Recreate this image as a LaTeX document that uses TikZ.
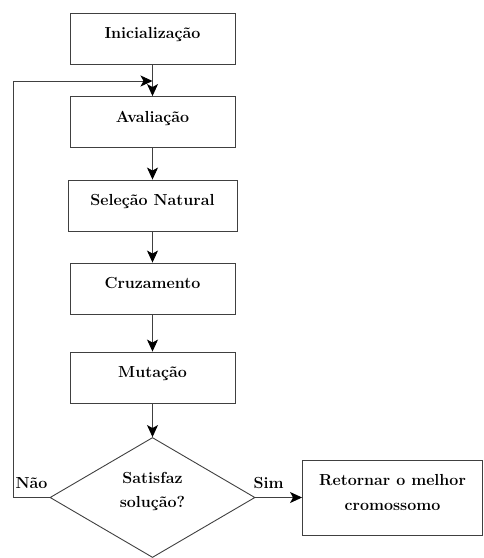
\documentclass[tikz,border=0pt]{standalone}
\usepackage{tikz}
\usetikzlibrary{arrows.meta}
\usetikzlibrary{shapes.geometric}
\usetikzlibrary{positioning}
\colorlet{linegray}{black!75}

\begin{document}
\begin{tikzpicture}[x=1pt,y=-1pt,
    etapa/.style={draw=linegray,line width=0.9pt,rectangle,minimum width=165pt,minimum height=51pt,inner sep=0pt,text depth=11pt,font=\fontsize{16}{18}\selectfont\bfseries},
    decisao/.style={draw=linegray,line width=0.9pt,diamond,aspect=1.7,minimum width=205pt,minimum height=120pt,inner sep=0pt,align=center,font=\fontsize{16}{24}\selectfont\bfseries},
    rotulo/.style={inner sep=0pt,font=\fontsize{16}{18}\selectfont\bfseries},
    seta/.style={draw=linegray,line width=0.9pt,-{Stealth[length=12pt,width=11pt,inset=3pt,black]}}]
\useasboundingbox (0,0) rectangle (483,558);
\node[etapa] (ini) at (152.5,38.5) {Inicialização};
\node[etapa] (aval) at (152.5,122) {Avaliação};
\node[etapa,minimum width=169pt] (sel) at (152.5,205.5) {Seleção Natural};
\node[etapa] (cruz) at (152.5,288.5) {Cruzamento};
\node[etapa] (mut) at (152.5,377.5) {Mutação};
\node[decisao] (sat) at (152.5,497.5) {Satisfaz\\solução?\\[-8pt]};
\node[etapa,minimum width=180pt,minimum height=75pt,align=center,font=\fontsize{16}{25}\selectfont\bfseries] (ret) at (392.5,497.5) {Retornar o melhor\\cromossomo};
\coordinate (canto) at (13,81);
\coordinate (volta) at (152.5,81);
% fluxo principal
\draw[seta] (ini) -- (aval);
\draw[seta] (aval) -- (sel);
\draw[seta] (sel) -- (cruz);
\draw[seta] (cruz) -- (mut);
\draw[seta] (mut) -- (sat);
\draw[seta] (sat.east) -- (ret.west);
\draw[seta] (sat.west) -| (canto) -- (volta);
\node[rotulo,above left=9pt and 2pt of sat.west] (nao) {Não};
\node[rotulo,above right=9pt and -2pt of sat.east] (sim) {Sim};
\end{tikzpicture}
\end{document}
